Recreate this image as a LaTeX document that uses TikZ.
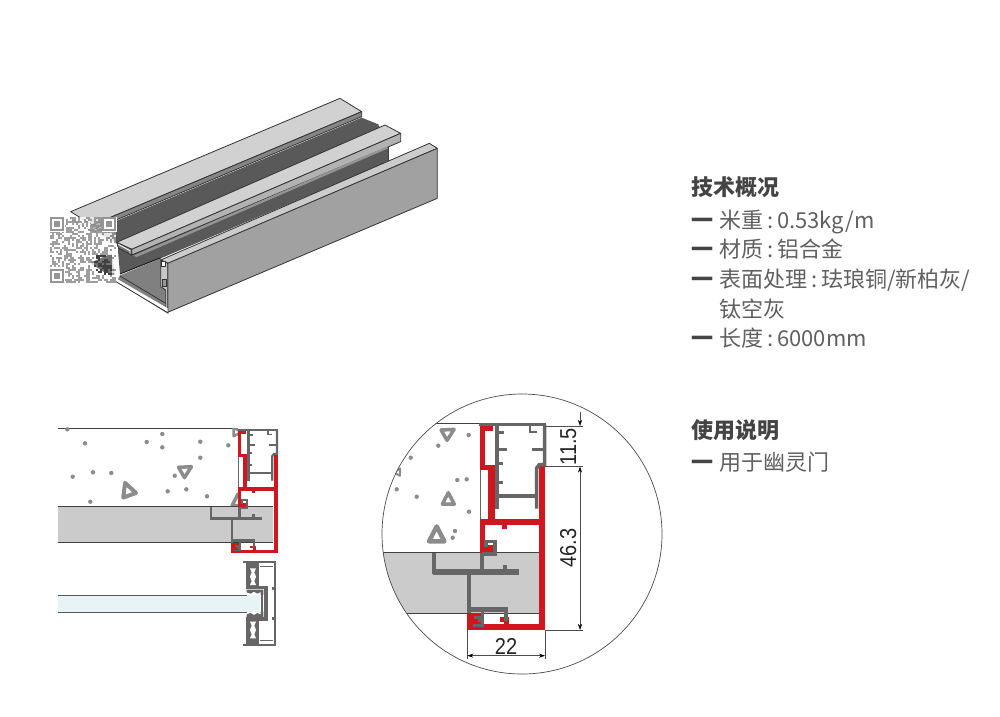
\documentclass[tikz,border=0pt]{standalone}
\usepackage{fontspec}
\setmainfont{Noto Sans CJK SC}
\newfontfamily\dimfont{Liberation Sans}
\usetikzlibrary{arrows.meta}
\definecolor{profred}{HTML}{D0161F}
\definecolor{profgrey}{HTML}{666666}
\definecolor{bandgrey}{HTML}{CBCBCB}
\definecolor{specks}{HTML}{8C8C8C}
\definecolor{txt}{HTML}{606060}
\definecolor{head}{HTML}{444444}
\definecolor{glass}{HTML}{E8F3F6}
\tikzset{
  outl/.style={draw=black!80,line width=.8pt,line join=round},
  gl/.style={draw=profgrey,line join=miter},
  dimline/.style={draw=black!70,line width=.5pt},
  dimarrow/.style={dimline,-{Stealth[length=6pt,width=4pt,black]}},
  dimtext/.style={font=\dimfont\fontsize{23}{23}\selectfont,text=black!85,inner sep=0pt,transform shape},
  body/.style={anchor=base west,inner sep=0pt,font=\fontsize{22}{24}\selectfont,text=txt},
  title/.style={anchor=base west,inner sep=0pt,font=\bfseries\fontsize{22}{24}\selectfont,text=head},
  bar/.style={anchor=base west,inner sep=0pt,font=\bfseries\fontsize{22}{24}\selectfont,text=head},
  wallline/.style={draw=black!75,line width=.8pt},
}
\newcommand{\clnsp}{\hspace{.18em}:\hspace{.18em}}
\newcommand{\spk}[2]{\fill[specks] (#1,#2) circle (2.2);}
\newcommand{\tri}[4]{\begin{scope}[shift={(#1,#2)},rotate=#3]
  \draw[draw=specks,fill=white,line width=#4*.5pt,line join=round] (0,-#4*.95)--(#4*.85,#4*.7)--(-#4*.85,#4*.7)--cycle;
\end{scope}}
% profile drawn in the coordinates of the enlarged detail; #1 = line width factor
\newcommand{\profile}[1]{%
  \def\pf{#1}%
  \fill[profred] (478,228) rectangle (496,720);
  \fill[profred] (262,702) rectangle (496,720);
  \fill[profred] (262,668) rectangle (310,720);
  \fill[profred] (300,388) rectangle (496,406);
  \fill[profred] (300,388) rectangle (315,488);
  \fill[profred] (300,466) rectangle (338,488);
  \fill[profred] (367,406) rectangle (382,416);
  \fill[profred] (300,108) rectangle (340,122);
  \fill[profred] (300,108) rectangle (315,240);
  \fill[profred] (300,225) rectangle (345,240);
  \fill[profred] (325,225) rectangle (345,390);
  \fill[profred] (360,682) rectangle (386,695);
  \fill[profred] (372,682) rectangle (386,712);
  \draw[gl,line width=2.5*\pf pt] (300,240)--(300,388);
  \draw[gl,line width=9*\pf pt] (298,104)--(498,104);
  \draw[gl,line width=9*\pf pt] (494,104)--(494,224)--(478,224)--(470,234)--(470,356);
  \draw[gl,line width=9*\pf pt] (351,104)--(351,356);
  \draw[gl,line width=9*\pf pt] (351,318)--(470,318);
  \draw[gl,line width=7*\pf pt] (351,127)--(372,127);
  \draw[gl,line width=9*\pf pt] (351,178)--(382,178);
  \draw[gl,line width=7*\pf pt] (351,220)--(370,220);
  \draw[gl,line width=7*\pf pt] (351,278)--(368,278);
  \draw[gl,line width=9*\pf pt] (494,178)--(455,178);
  \draw[gl,line width=7*\pf pt] (470,126)--(450,126)--(450,108);
  \draw[gl,line width=9*\pf pt] (318,472)--(318,455)--(345,455)--(345,492)--(306,492);
  \draw[gl,line width=9*\pf pt] (306,490)--(306,546);
  \draw[gl,line width=14*\pf pt] (158,546)--(416,546);
  \draw[gl,line width=10*\pf pt] (163,488)--(163,552);
  \draw[gl,line width=10*\pf pt] (375,524)--(375,542);
  \draw[gl,line width=10*\pf pt] (268,550)--(268,668);
  \draw[gl,line width=12*\pf pt] (263,658)--(383,658);
  \draw[gl,line width=8*\pf pt] (378,655)--(378,692);
  \draw[gl,line width=7*\pf pt] (308,662)--(308,706)--(280,706);
  \draw[gl,line width=6*\pf pt] (282,683)--(298,683)--(298,696);
}
\begin{document}
\begin{tikzpicture}[x=1pt,y=-1pt]
\useasboundingbox (0,0) rectangle (1000,716);
\fill[white] (0,0) rectangle (1000,716);

% ---------- 3D view
\begin{scope}[shift={(40,90)},scale=1/3]
  % channel floor between the plates
  \fill[black!65] (157,423)--(965,83)--(1015,103)--(1045,170)--(1045,215)--(362,505)--(240,552)--(232,460)--cycle;
  % inner face of the outer wall
  \fill[black!50] (240,556)--(362,505)--(385,520)--(385,672)--(230,575)--cycle;
  \draw[black!90,line width=.9pt] (240,552)--(362,503);
  % top plate
  \path[outl,fill=black!18] (92,365)--(900,25)--(965,65)--(157,405)--cycle;
  \path[outl,fill=black!48] (157,405)--(965,65)--(965,80)--(157,420)--cycle;
  \draw[white,line width=.8pt] (92,372)--(92,385)--(157,420);
  \draw[black!80,line width=.6pt] (92,387)--(157,424);
  % second plate
  \path[outl,fill=black!18] (230,457)--(1035,105)--(1082,130)--(275,478)--cycle;
  \path[outl,fill=black!30] (275,478)--(1082,130)--(1082,155)--(275,495)--cycle;
  \path[outl,fill=black!55] (230,457)--(275,478)--(275,495)--(235,474)--cycle;
  \draw[white,line width=.9pt] (235,463)--(270,482)--(270,490);
  \fill[black!42] (280,497)--(1040,170)--(1045,175)--(290,501)--cycle;
  \draw[white,line width=1.2pt] (232,470)--(232,572);
  \draw[black!75,line width=.7pt] (1045,172)--(1045,215);
  % outer wall
  \path[outl,fill=black!20] (362,510)--(1168,160)--(1192,175)--(385,520)--cycle;
  \path[outl,fill=black!37] (383,520)--(1192,175)--(1192,325)--(383,667)--cycle;
  \path[outl,fill=black!22] (362,510)--(383,520)--(383,667)--(377,662)--(377,600)--(362,590)--cycle;
  \draw[outl,fill=white] (364,514) rectangle (376,528);
  \draw[outl,fill=black!40] (366,568) rectangle (378,588);
  % bottom lip
  \fill[white] (230,566)--(383,655)--(383,667)--(230,575)--cycle;
  \draw[outl] (228,575)--(383,668);
  \draw[black!85,line width=.6pt] (240,558)--(377,640);
  \fill[black!85] (150,519)--(215,490)--(225,555)--(190,545)--cycle;
\end{scope}

% ---------- QR watermark
\pgfmathsetseed{17}
\foreach \i in {0,...,32}{\foreach \j in {0,...,32}{
  \pgfmathparse{rnd<0.5?1:0}\ifnum\pgfmathresult=1
    \pgfmathparse{(\i>21&&\i<31&&\j>18&&\j<29)?1:0}\ifnum\pgfmathresult=1
      \fill[black!75] ({50+2*\i},{217+2*\j}) rectangle ++(2,2);
    \else
      \fill[black!42,opacity=.9] ({50+2*\i},{217+2*\j}) rectangle ++(2,2);
    \fi
  \else
    \pgfmathparse{(\i>19&&\j<8)?1:0}\ifnum\pgfmathresult=1
      \fill[white,opacity=.4] ({50+2*\i},{217+2*\j}) rectangle ++(2,2);
    \else
      \pgfmathparse{(\i>21&&\i<31&&\j>18&&\j<29)?1:0}\ifnum\pgfmathresult=0
        \fill[white,opacity=.85] ({50+2*\i},{217+2*\j}) rectangle ++(2,2);
      \else
        \fill[white,opacity=.35] ({50+2*\i},{217+2*\j}) rectangle ++(2,2);
      \fi
    \fi
  \fi}}
\foreach \fx/\fy in {50/217,102/217,50/269}{
  \fill[white] ({\fx-.5},{\fy-.5}) rectangle ++(15,15);
  \fill[black!42] (\fx,\fy) rectangle ++(14,14);
  \fill[white] ({\fx+2},{\fy+2}) rectangle ++(10,10);
  \fill[black!42] ({\fx+4},{\fy+4}) rectangle ++(6,6);
}

% ---------- left section: wall
\fill[bandgrey] (57.7,506.3) rectangle (273,542.3);
\draw[wallline] (57.7,428.3)--(238,428.3);
\draw[wallline] (57.7,506.3)--(273,506.3);
\draw[wallline] (57.7,542.3)--(273,542.3);
\foreach \a/\b in {67.3/429.3,162.3/434,85/443.3,146.7/442,162.3/447.3,200.3/441.7,228.3/445.3,200.3/457.7,93/472.3,111.3/473,72.7/476.7,174.7/475.7,167.7/491.3,186.3/489.3,207/496.3,90.3/501.7}{\spk{\a}{\b}}
\tri{185.7}{470}{-60}{7}
\tri{127.7}{490}{20}{8}
\begin{scope}
  \clip (200,428.8) rectangle (238,505.8);
  \tri{238}{500.7}{0}{7}
  \tri{237}{432}{-90}{5}
\end{scope}
\begin{scope}[shift={(178.3,409.3)},scale=.2]
  \profile{.25}
\end{scope}

% ---------- left section: glass door
\fill[glass] (57.7,595.3) rectangle (252,612);
\draw[draw=black!65,line width=.7pt] (57.7,595.3)--(250,595.3);
\draw[draw=black!65,line width=.7pt] (57.7,612)--(250,612);
\begin{scope}[shift={(220,555)},scale=1/3]
  \draw[profgrey,line width=1.7pt] (70,20)--(165,20)--(165,270)--(70,270);
  \draw[profgrey,line width=.9pt] (120,33)--(160,33);
  \draw[profgrey,line width=.9pt] (120,257)--(160,257);
  \fill[profgrey] (78,22) rectangle (118,268);
  \fill[profgrey] (78,92) rectangle (145,198);
  \fill[white] (90,40)--(108,40)--(103,52)--(108,65)--(103,78)--(108,90)--(90,90)--(95,78)--(90,65)--(95,52)--cycle;
  \fill[white] (90,200)--(108,200)--(103,212)--(108,225)--(103,238)--(108,250)--(90,250)--(95,238)--(90,225)--(95,212)--cycle;
  \fill[white] (78,103) rectangle (132,187);
  \fill[glass] (0,121) rectangle (120,170);
  \fill[profgrey] (80,104)--(130,104)--(130,120)--(122,120)--(122,111)--(112,116)--(102,110)--(92,116)--(80,112)--cycle;
  \fill[profgrey] (80,186)--(130,186)--(130,170)--(122,170)--(122,179)--(112,174)--(102,180)--(92,174)--(80,178)--cycle;
  \fill[profgrey] (122,112) rectangle (130,178);
  \fill[profgrey] (155,95) rectangle (165,105);
  \fill[profgrey] (155,185) rectangle (165,195);
  \draw[black!65,line width=.7pt] (0,121)--(80,121);
  \draw[black!65,line width=.7pt] (0,171)--(80,171);
\end{scope}

% ---------- enlarged detail
\begin{scope}
  \clip (522,534) circle (140);
  \fill[bandgrey] (380,552.7) rectangle (539.3,613.3);
  \draw[wallline] (380,423.3)--(480,423.3);
  \draw[wallline] (380,552.7)--(539.3,552.7);
  \draw[wallline] (380,613.3)--(539.3,613.3);
  \foreach \a/\b in {468.7/435,438.3/445.7,410.7/457.7,457.3/480,466.7/479.3,396.7/489.3,416.7/496.7,469/511.7,455/531,452.7/537.7}{\spk{\a}{\b}}
  \tri{448.3}{432.7}{-60}{7}
  \tri{448.3}{499.3}{0}{7}
  \tri{436.7}{535}{0}{9}
  \tri{398.3}{471.7}{-30}{4}
\end{scope}
\draw[black!70,line width=.7pt] (522,534) circle (140);
\begin{scope}[shift={(380,390)},scale=1/3]
  \profile{.4}
  \coordinate (dTopA) at (600,65);
  \coordinate (dTop) at (600,108);
  \coordinate (dMid) at (600,230);
  \coordinate (dBot) at (600,720);
  \coordinate (eTop) at (497,108);
  \coordinate (eMid) at (495,230);
  \coordinate (eBot) at (495,720);
  \coordinate (eTopR) at (610,108);
  \coordinate (eMidR) at (610,230);
  \coordinate (eBotR) at (610,720);
  \coordinate (wL) at (262,797);
  \coordinate (wR) at (495,797);
  \coordinate (eL) at (262,720);
  \coordinate (eR) at (495,720);
  \coordinate (eLb) at (262,807);
  \coordinate (eRb) at (495,807);
\end{scope}
\draw[dimline] (eTop)--(eTopR);
\draw[dimline] (eMid)--(eMidR);
\draw[dimline] (eBot)--(eBotR);
\draw[dimline] (eL)--(eLb);
\draw[dimline] (eR)--(eRb);
\draw[dimarrow] (dTopA)--(dTop);
\draw[dimarrow,{Stealth[length=6pt,width=4pt,black]}-{Stealth[length=6pt,width=4pt,black]}] (dMid)--(dBot);
\draw[dimarrow,{Stealth[length=6pt,width=4pt,black]}-{Stealth[length=6pt,width=4pt,black]}] (wL)--(wR);
\node[dimtext,xscale=.87] (d22) at (506,646) {22};
\node[dimtext,rotate=90,xscale=.87] (d463) at (568.3,548.3) {46.3};
\node[dimtext,rotate=90,xscale=.87] (d115) at (568.3,446.7) {11.5};

% ---------- text
\node[title] (t1) at (691,195) {技术概况};
\node[bar] (b1) at (691,228) {一};
\node[body] (l1) at (719,228) {米重\clnsp 0.53kg/m};
\node[bar] (b2) at (691,257) {一};
\node[body] (l2) at (719,257) {材质\clnsp 铝合金};
\node[bar] (b3) at (691,287) {一};
\node[body] (l3) at (719,287) {表面处理\clnsp 珐琅铜/新柏灰/};
\node[body] (l4) at (719,317) {钛空灰};
\node[bar] (b5) at (691,346) {一};
\node[body] (l5) at (719,346) {长度\clnsp 6000mm};
\node[title] (t2) at (691,438) {使用说明};
\node[bar] (b6) at (691,470) {一};
\node[body] (l6) at (719,470) {用于幽灵门};
\end{tikzpicture}
\end{document}
